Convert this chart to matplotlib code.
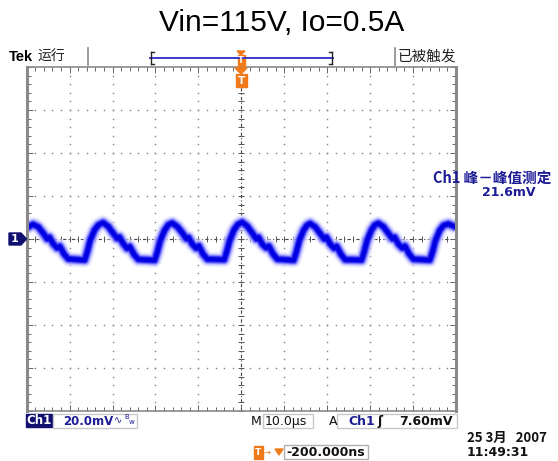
import matplotlib.pyplot as plt
import numpy as np
from matplotlib.patches import Rectangle, Polygon
from matplotlib.lines import Line2D

W, H = 558, 461

# Ch1 trace: time in us (10 us/div, 0..100), voltage in mV (20 mV/div)
t_us = [0.0, 1.5, 2.7, 3.8, 4.8, 5.3, 6.2, 7.1, 7.7, 8.7, 9.7, 13.5, 14.1, 14.8, 15.8, 16.7,
        17.8, 19.0, 20.1, 21.1, 21.6, 22.5, 23.4, 24.0, 25.0, 26.0, 29.8, 30.4, 31.1, 32.1, 33.0,
        33.9, 35.1, 36.2, 37.2, 37.7, 38.6, 39.5, 40.1, 41.1, 42.1, 46.0, 46.6, 47.3, 48.3, 49.2,
        50.2, 51.4, 52.5, 53.5, 54.0, 54.9, 55.8, 56.4, 57.4, 58.4, 62.2, 62.8, 63.5, 64.5, 65.3,
        66.0, 67.2, 68.3, 69.3, 69.8, 70.7, 71.6, 72.2, 73.2, 74.2, 78.0, 78.6, 79.3, 80.3, 81.1,
        81.9, 83.1, 84.2, 85.2, 85.7, 86.6, 87.5, 88.1, 89.1, 90.1, 93.9, 94.5, 95.2, 96.2, 97.1,
        98.2, 100.0]
ch1_mv = [5.2, 6.8, 5.6, 2.8, 0.0, 0.8, -2.3, -4.2, -3.4, -7.0, -9.3, -9.8, -6.0, -0.5, 4.2, 6.5,
          7.6, 5.8, 2.8, 0.2, 0.9, -2.2, -4.4, -3.5, -7.2, -9.5, -9.9, -6.2, -0.8, 4.0, 6.6,
          7.4, 5.7, 3.0, 0.1, 0.7, -2.4, -4.3, -3.2, -7.1, -9.4, -9.6, -5.8, -0.6, 4.3, 6.8,
          7.8, 5.9, 2.9, 0.0, 0.8, -2.5, -4.1, -3.3, -7.0, -9.4, -9.9, -6.1, -0.7, 4.1, 6.4,
          7.2, 5.6, 2.7, 0.0, 0.9, -2.3, -4.3, -3.4, -7.1, -9.6, -9.8, -6.0, -0.6, 4.2, 6.5,
          7.3, 5.7, 2.8, 0.1, 0.8, -2.4, -4.2, -3.3, -7.0, -9.4, -9.8, -6.2, -0.8, 4.0, 6.3,
          7.0, 5.5]

title = "Vin=115V, Io=0.5A"
meas_label = "Ch1 峰－峰值测定"
meas_value = "21.6mV"
ch_scale = "20.0mV"
time_scale = "10.0µs"
trig_level = "7.60mV"
trig_pos = "-200.000ns"
date_str = "25 3月   2007"
time_str = "11:49:31"

NAVY = "#1c1c96"
ORANGE = "#f07a1a"
GRAY = "#8a8a8a"
CJK = ["Noto Sans CJK SC", "DejaVu Sans"]

fig = plt.figure(figsize=(W / 100, H / 100), dpi=100)


def fx(x):
    return x / W


def fy(y):
    return 1 - y / H


def txt(x, y, s, **kw):
    kw.setdefault("va", "center")
    fig.text(fx(x), fy(y), s, **kw)


def rect(x0, y0, x1, y1, **kw):
    fig.add_artist(Rectangle((fx(x0), fy(y1)), (x1 - x0) / W, (y1 - y0) / H,
                             transform=fig.transFigure, **kw))


def line(xs, ys, **kw):
    fig.add_artist(Line2D([fx(v) for v in xs], [fy(v) for v in ys],
                          transform=fig.transFigure, **kw))


# graticule
L, R, T, B = 26.7, 456, 67, 411
ax = fig.add_axes([fx(L), fy(B), (R - L) / W, (B - T) / H])
ax.set_xlim(0, 100)
ax.set_ylim(-80, 80)
ax.set_xticks(np.arange(0, 101, 10))
ax.set_xticks(np.arange(0, 101, 2), minor=True)
ax.set_yticks(np.arange(-80, 81, 20))
ax.set_yticks(np.arange(-80, 81, 4), minor=True)
ax.tick_params(which="both", direction="in", top=True, right=True,
               labelbottom=False, labelleft=False, color="#666666", width=0.7)
ax.tick_params(which="major", length=4)
ax.tick_params(which="minor", length=3)
for s in ax.spines.values():
    s.set_color(GRAY)
    s.set_linewidth(1.2)
ax.spines["left"].set_linewidth(2.2)
ax.spines["right"].set_linewidth(2.2)

dots_y = np.arange(-80, 81, 4)
dots_x = np.arange(0, 101, 2)
for xv in range(10, 100, 10):
    if xv != 50:
        ax.plot([xv] * len(dots_y), dots_y, ls="none", marker="s", ms=1.0, color="#808080", mew=0)
for yv in range(-60, 80, 20):
    if yv != 0:
        ax.plot(dots_x, [yv] * len(dots_x), ls="none", marker="s", ms=1.0, color="#808080", mew=0)
# centre cross with fine ticks
ax.plot([0, 100], [0, 0], color="#444444", lw=0.8, ls=(0, (3, 2, 1, 2)))
ax.plot(dots_x, [0] * len(dots_x), ls="none", marker="|", ms=5, color="#555555", mew=0.7)
ax.plot([50, 50], [-80, 80], color="#444444", lw=0.8, ls=(0, (3, 2, 1, 2)))
ax.plot([50] * len(dots_y), dots_y, ls="none", marker="_", ms=5, color="#555555", mew=0.7)

# fuzzy trace
for lw, col, a in [(11, "#e0e0ff", 0.5), (9, "#c0c0ff", 0.5), (7.5, "#9090ff", 0.5),
                   (6, "#5a5aff", 0.7), (4.5, "#2828f0", 0.9), (3, "#0000e0", 1.0)]:
    ax.plot(t_us, ch1_mv, color=col, lw=lw, alpha=a, solid_joinstyle="round", solid_capstyle="butt")

# title
txt(282, 23, title, ha="center", fontsize=21.5, family="Liberation Sans")

# top status bar
txt(9, 57, "Tek", fontsize=10.5, fontweight="bold", family="Liberation Sans")
txt(37, 57, "运行", fontsize=10, family=CJK, color="#222222")
line([88, 88], [48, 65], color=GRAY, lw=1.2)
line([395, 395], [48, 65], color=GRAY, lw=1.2)
line([150, 333], [58, 58], color="#3a3ac8", lw=1.4)
line([151, 151], [52, 64], color="#222222", lw=1)
line([151, 154], [52, 52], color="#222222", lw=1)
line([151, 154], [64, 64], color="#222222", lw=1)
line([332, 332], [52, 64], color="#222222", lw=1)
line([329, 332], [52, 52], color="#222222", lw=1)
line([329, 332], [64, 64], color="#222222", lw=1)
fig.add_artist(Polygon([(fx(237), fy(51)), (fx(245), fy(51)), (fx(241), fy(55))],
                       transform=fig.transFigure, color=ORANGE))
rect(237.5, 55, 244.5, 66, color=ORANGE)
txt(241, 60.5, "T", ha="center", fontsize=6, color="white", fontweight="bold")
txt(398, 57, "已被触发", fontsize=10.5, family=CJK, color="#222222")

# trigger position marker under the top edge
fig.add_artist(Polygon([(fx(235), fy(68)), (fx(247), fy(68)), (fx(241), fy(74))],
                       transform=fig.transFigure, color=ORANGE))
rect(235.5, 74, 246.5, 87, color=ORANGE)
txt(241, 80.5, "T", ha="center", fontsize=7.5, color="white", fontweight="bold")

# channel ground marker
fig.add_artist(Polygon([(fx(9), fy(233)), (fx(21), fy(233)), (fx(26.5), fy(239)),
                        (fx(21), fy(245)), (fx(9), fy(245))],
                       transform=fig.transFigure, color="#101070"))
txt(15, 239, "1", ha="center", fontsize=8, color="white", fontweight="bold")

# measurement readout
txt(433, 178, meas_label, fontsize=10.5, family=CJK, color=NAVY, fontweight="bold")
txt(482, 192, meas_value, fontsize=9, color=NAVY, fontweight="bold")

# bottom readouts
rect(26, 414, 52, 427, color="#101070")
txt(39, 420.5, "Ch1", ha="center", fontsize=8.5, color="white", fontweight="bold")
rect(53, 414, 137, 428, fill=False, ec="#c8c8c8", lw=1)
txt(63, 421, ch_scale, fontsize=8.5, color=NAVY, fontweight="bold")
txt(114, 420, "∿", fontsize=7, color=NAVY)
txt(124, 417, "B", fontsize=5, color=NAVY)
txt(129, 422, "w", fontsize=5, color=NAVY)

txt(251, 421, "M", fontsize=9, color="#111111")
rect(263, 414, 313, 428, fill=False, ec="#c8c8c8", lw=1)
txt(265, 421, time_scale, fontsize=9, color="#111111")
txt(329, 421, "A", fontsize=9, color="#111111")
rect(337, 414, 457, 428, fill=False, ec="#c8c8c8", lw=1)
txt(348, 421, "Ch1", fontsize=9, color=NAVY, fontweight="bold")
txt(377, 421, "ʃ", fontsize=9, color="#111111", fontweight="bold")
txt(399, 421, trig_level, fontsize=9, color="#111111", fontweight="bold")

rect(253.5, 446, 262.5, 459, color=ORANGE)
txt(258, 452.5, "T", ha="center", fontsize=6.5, color="white", fontweight="bold")
txt(263, 452, "→", fontsize=6, color=ORANGE)
fig.add_artist(Polygon([(fx(275), fy(449)), (fx(283), fy(449)), (fx(279), fy(455))],
                       transform=fig.transFigure, color=ORANGE))
rect(284, 445, 368, 459, fill=False, ec="#b0b0b0", lw=1)
txt(286, 452.5, trig_pos, fontsize=9, color="#111111", fontweight="bold")

txt(467, 438, date_str, fontsize=9.5, family=CJK, color="#111111", fontweight="bold")
txt(467, 452, time_str, fontsize=9, color="#111111", fontweight="bold")

fig.savefig("out.png", dpi=100)
